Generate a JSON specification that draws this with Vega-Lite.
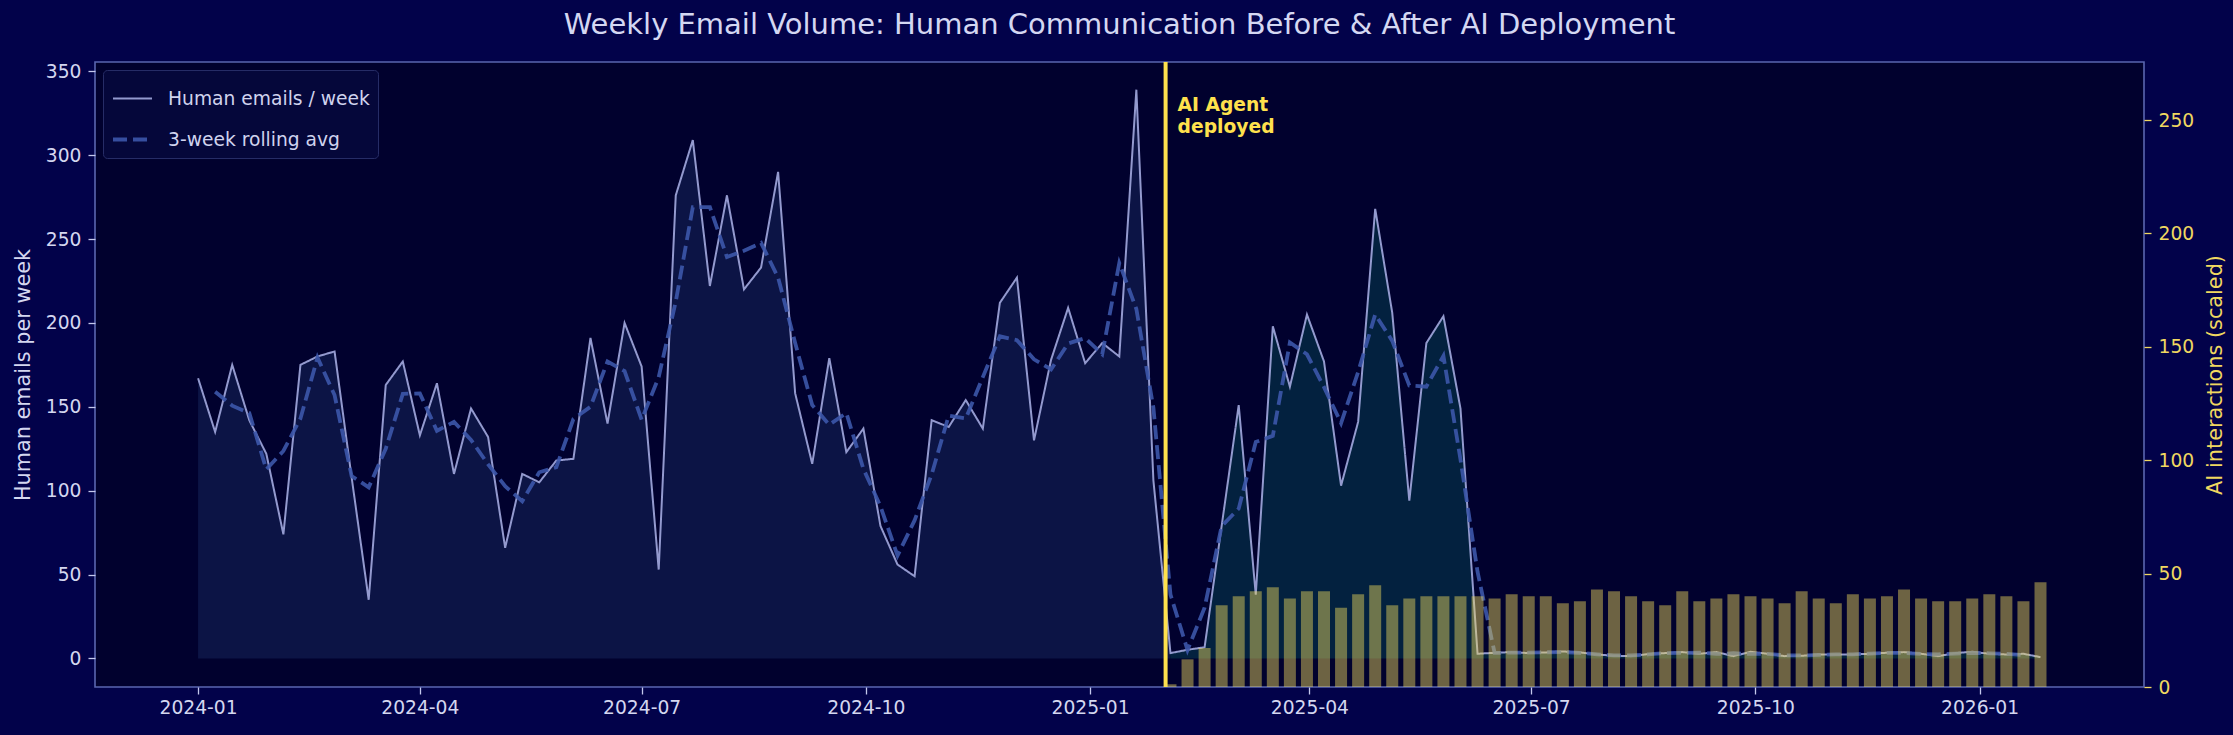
{
  "$schema": "https://vega.github.io/schema/vega-lite/v6.json",
  "width": 2049,
  "height": 625,
  "autosize": {"type": "none"},
  "padding": {"left": 95, "top": 62, "right": 89, "bottom": 48},
  "background": "#02024a",
  "title": {
    "text": "Weekly Email Volume: Human Communication Before & After AI Deployment",
    "font": "DejaVu Sans",
    "fontSize": 29,
    "fontWeight": "normal",
    "color": "#d4d7f2",
    "anchor": "middle",
    "offset": 20
  },
  "datasets": {
    "weeks": [
      {"date": "2024-01-01", "human": 167, "rolling": null, "phase": "pre"},
      {"date": "2024-01-08", "human": 135, "rolling": 159.0, "phase": "pre"},
      {"date": "2024-01-15", "human": 175, "rolling": 150.7, "phase": "pre"},
      {"date": "2024-01-22", "human": 142, "rolling": 146.3, "phase": "pre"},
      {"date": "2024-01-29", "human": 122, "rolling": 112.7, "phase": "pre"},
      {"date": "2024-02-05", "human": 74, "rolling": 123.7, "phase": "pre"},
      {"date": "2024-02-12", "human": 175, "rolling": 143.0, "phase": "pre"},
      {"date": "2024-02-19", "human": 180, "rolling": 179.3, "phase": "pre"},
      {"date": "2024-02-26", "human": 183, "rolling": 157.0, "phase": "pre"},
      {"date": "2024-03-04", "human": 108, "rolling": 108.7, "phase": "pre"},
      {"date": "2024-03-11", "human": 35, "rolling": 102.0, "phase": "pre"},
      {"date": "2024-03-18", "human": 163, "rolling": 125.0, "phase": "pre"},
      {"date": "2024-03-25", "human": 177, "rolling": 157.7, "phase": "pre"},
      {"date": "2024-04-01", "human": 133, "rolling": 158.0, "phase": "pre"},
      {"date": "2024-04-08", "human": 164, "rolling": 135.7, "phase": "pre"},
      {"date": "2024-04-15", "human": 110, "rolling": 141.0, "phase": "pre"},
      {"date": "2024-04-22", "human": 149, "rolling": 130.3, "phase": "pre"},
      {"date": "2024-04-29", "human": 132, "rolling": 115.7, "phase": "pre"},
      {"date": "2024-05-06", "human": 66, "rolling": 102.7, "phase": "pre"},
      {"date": "2024-05-13", "human": 110, "rolling": 93.7, "phase": "pre"},
      {"date": "2024-05-20", "human": 105, "rolling": 111.0, "phase": "pre"},
      {"date": "2024-05-27", "human": 118, "rolling": 114.0, "phase": "pre"},
      {"date": "2024-06-03", "human": 119, "rolling": 142.7, "phase": "pre"},
      {"date": "2024-06-10", "human": 191, "rolling": 150.0, "phase": "pre"},
      {"date": "2024-06-17", "human": 140, "rolling": 177.0, "phase": "pre"},
      {"date": "2024-06-24", "human": 200, "rolling": 171.3, "phase": "pre"},
      {"date": "2024-07-01", "human": 174, "rolling": 142.3, "phase": "pre"},
      {"date": "2024-07-08", "human": 53, "rolling": 167.7, "phase": "pre"},
      {"date": "2024-07-15", "human": 276, "rolling": 212.7, "phase": "pre"},
      {"date": "2024-07-22", "human": 309, "rolling": 269.0, "phase": "pre"},
      {"date": "2024-07-29", "human": 222, "rolling": 269.0, "phase": "pre"},
      {"date": "2024-08-05", "human": 276, "rolling": 239.3, "phase": "pre"},
      {"date": "2024-08-12", "human": 220, "rolling": 243.0, "phase": "pre"},
      {"date": "2024-08-19", "human": 233, "rolling": 247.7, "phase": "pre"},
      {"date": "2024-08-26", "human": 290, "rolling": 227.0, "phase": "pre"},
      {"date": "2024-09-02", "human": 158, "rolling": 188.0, "phase": "pre"},
      {"date": "2024-09-09", "human": 116, "rolling": 151.0, "phase": "pre"},
      {"date": "2024-09-16", "human": 179, "rolling": 139.3, "phase": "pre"},
      {"date": "2024-09-23", "human": 123, "rolling": 146.3, "phase": "pre"},
      {"date": "2024-09-30", "human": 137, "rolling": 113.0, "phase": "pre"},
      {"date": "2024-10-07", "human": 79, "rolling": 90.7, "phase": "pre"},
      {"date": "2024-10-14", "human": 56, "rolling": 61.3, "phase": "pre"},
      {"date": "2024-10-21", "human": 49, "rolling": 82.3, "phase": "pre"},
      {"date": "2024-10-28", "human": 142, "rolling": 109.7, "phase": "pre"},
      {"date": "2024-11-04", "human": 138, "rolling": 144.7, "phase": "pre"},
      {"date": "2024-11-11", "human": 154, "rolling": 143.0, "phase": "pre"},
      {"date": "2024-11-18", "human": 137, "rolling": 167.7, "phase": "pre"},
      {"date": "2024-11-25", "human": 212, "rolling": 192.0, "phase": "pre"},
      {"date": "2024-12-02", "human": 227, "rolling": 189.7, "phase": "pre"},
      {"date": "2024-12-09", "human": 130, "rolling": 178.3, "phase": "pre"},
      {"date": "2024-12-16", "human": 178, "rolling": 172.3, "phase": "pre"},
      {"date": "2024-12-23", "human": 209, "rolling": 187.7, "phase": "pre"},
      {"date": "2024-12-30", "human": 176, "rolling": 191.0, "phase": "pre"},
      {"date": "2025-01-06", "human": 188, "rolling": 181.3, "phase": "pre"},
      {"date": "2025-01-13", "human": 180, "rolling": 235.7, "phase": "pre"},
      {"date": "2025-01-20", "human": 339, "rolling": 208.3, "phase": "pre"},
      {"date": "2025-01-27", "human": 106, "rolling": 149.4, "phase": "pre"},
      {"date": "2025-02-03", "human": 3.2, "rolling": 38.1, "phase": "post"},
      {"date": "2025-02-10", "human": 5.2, "rolling": 5.0, "phase": "post"},
      {"date": "2025-02-17", "human": 6.7, "rolling": 30.3, "phase": "post"},
      {"date": "2025-02-24", "human": 79, "rolling": 78.9, "phase": "post"},
      {"date": "2025-03-03", "human": 151, "rolling": 89.3, "phase": "post"},
      {"date": "2025-03-10", "human": 38, "rolling": 129.0, "phase": "post"},
      {"date": "2025-03-17", "human": 198, "rolling": 132.7, "phase": "post"},
      {"date": "2025-03-24", "human": 162, "rolling": 188.3, "phase": "post"},
      {"date": "2025-03-31", "human": 205, "rolling": 181.3, "phase": "post"},
      {"date": "2025-04-07", "human": 177, "rolling": 161.7, "phase": "post"},
      {"date": "2025-04-14", "human": 103, "rolling": 140.3, "phase": "post"},
      {"date": "2025-04-21", "human": 141, "rolling": 170.7, "phase": "post"},
      {"date": "2025-04-28", "human": 268, "rolling": 205.0, "phase": "post"},
      {"date": "2025-05-05", "human": 206, "rolling": 189.3, "phase": "post"},
      {"date": "2025-05-12", "human": 94, "rolling": 162.7, "phase": "post"},
      {"date": "2025-05-19", "human": 188, "rolling": 162.0, "phase": "post"},
      {"date": "2025-05-26", "human": 204, "rolling": 180.3, "phase": "post"},
      {"date": "2025-06-02", "human": 149, "rolling": 118.6, "phase": "post"},
      {"date": "2025-06-09", "human": 2.8, "rolling": 51.7, "phase": "post"},
      {"date": "2025-06-16", "human": 3.4, "rolling": 3.3, "phase": "post"},
      {"date": "2025-06-23", "human": 3.8, "rolling": 3.5, "phase": "post"},
      {"date": "2025-06-30", "human": 3.2, "rolling": 3.5, "phase": "post"},
      {"date": "2025-07-07", "human": 3.6, "rolling": 3.7, "phase": "post"},
      {"date": "2025-07-14", "human": 4.2, "rolling": 3.8, "phase": "post"},
      {"date": "2025-07-21", "human": 3.6, "rolling": 3.4, "phase": "post"},
      {"date": "2025-07-28", "human": 2.4, "rolling": 2.5, "phase": "post"},
      {"date": "2025-08-04", "human": 1.6, "rolling": 1.8, "phase": "post"},
      {"date": "2025-08-11", "human": 1.4, "rolling": 1.9, "phase": "post"},
      {"date": "2025-08-18", "human": 2.6, "rolling": 2.4, "phase": "post"},
      {"date": "2025-08-25", "human": 3.2, "rolling": 3.2, "phase": "post"},
      {"date": "2025-09-01", "human": 3.8, "rolling": 3.3, "phase": "post"},
      {"date": "2025-09-08", "human": 2.8, "rolling": 3.5, "phase": "post"},
      {"date": "2025-09-15", "human": 3.8, "rolling": 2.7, "phase": "post"},
      {"date": "2025-09-22", "human": 1.4, "rolling": 3.1, "phase": "post"},
      {"date": "2025-09-29", "human": 4.0, "rolling": 2.7, "phase": "post"},
      {"date": "2025-10-06", "human": 2.8, "rolling": 2.7, "phase": "post"},
      {"date": "2025-10-13", "human": 1.4, "rolling": 1.9, "phase": "post"},
      {"date": "2025-10-20", "human": 1.6, "rolling": 1.8, "phase": "post"},
      {"date": "2025-10-27", "human": 2.4, "rolling": 2.1, "phase": "post"},
      {"date": "2025-11-03", "human": 2.4, "rolling": 2.4, "phase": "post"},
      {"date": "2025-11-10", "human": 2.4, "rolling": 2.5, "phase": "post"},
      {"date": "2025-11-17", "human": 2.8, "rolling": 2.9, "phase": "post"},
      {"date": "2025-11-24", "human": 3.4, "rolling": 3.3, "phase": "post"},
      {"date": "2025-12-01", "human": 3.8, "rolling": 3.3, "phase": "post"},
      {"date": "2025-12-08", "human": 2.8, "rolling": 2.7, "phase": "post"},
      {"date": "2025-12-15", "human": 1.4, "rolling": 2.5, "phase": "post"},
      {"date": "2025-12-22", "human": 3.2, "rolling": 2.9, "phase": "post"},
      {"date": "2025-12-29", "human": 4.0, "rolling": 3.3, "phase": "post"},
      {"date": "2026-01-05", "human": 2.8, "rolling": 3.1, "phase": "post"},
      {"date": "2026-01-12", "human": 2.4, "rolling": 2.7, "phase": "post"},
      {"date": "2026-01-19", "human": 2.8, "rolling": 2.0, "phase": "post"},
      {"date": "2026-01-26", "human": 0.8, "rolling": null, "phase": "post"}
    ],
    "ai": [
      {"date": "2025-02-03", "ai": 1.2},
      {"date": "2025-02-10", "ai": 12.2},
      {"date": "2025-02-17", "ai": 17.2},
      {"date": "2025-02-24", "ai": 36},
      {"date": "2025-03-03", "ai": 40},
      {"date": "2025-03-10", "ai": 42.2},
      {"date": "2025-03-17", "ai": 44},
      {"date": "2025-03-24", "ai": 39},
      {"date": "2025-03-31", "ai": 42.2},
      {"date": "2025-04-07", "ai": 42.2},
      {"date": "2025-04-14", "ai": 35},
      {"date": "2025-04-21", "ai": 40.9},
      {"date": "2025-04-28", "ai": 44.9},
      {"date": "2025-05-05", "ai": 36},
      {"date": "2025-05-12", "ai": 39},
      {"date": "2025-05-19", "ai": 40},
      {"date": "2025-05-26", "ai": 40},
      {"date": "2025-06-02", "ai": 40},
      {"date": "2025-06-09", "ai": 40},
      {"date": "2025-06-16", "ai": 39},
      {"date": "2025-06-23", "ai": 40.9},
      {"date": "2025-06-30", "ai": 40},
      {"date": "2025-07-07", "ai": 40},
      {"date": "2025-07-14", "ai": 36.9},
      {"date": "2025-07-21", "ai": 37.8},
      {"date": "2025-07-28", "ai": 43},
      {"date": "2025-08-04", "ai": 42.2},
      {"date": "2025-08-11", "ai": 40},
      {"date": "2025-08-18", "ai": 37.8},
      {"date": "2025-08-25", "ai": 36},
      {"date": "2025-09-01", "ai": 42.2},
      {"date": "2025-09-08", "ai": 37.8},
      {"date": "2025-09-15", "ai": 39},
      {"date": "2025-09-22", "ai": 40.9},
      {"date": "2025-09-29", "ai": 40},
      {"date": "2025-10-06", "ai": 39},
      {"date": "2025-10-13", "ai": 36.9},
      {"date": "2025-10-20", "ai": 42.2},
      {"date": "2025-10-27", "ai": 39},
      {"date": "2025-11-03", "ai": 36.9},
      {"date": "2025-11-10", "ai": 40.9},
      {"date": "2025-11-17", "ai": 39},
      {"date": "2025-11-24", "ai": 40},
      {"date": "2025-12-01", "ai": 43},
      {"date": "2025-12-08", "ai": 39},
      {"date": "2025-12-15", "ai": 37.8},
      {"date": "2025-12-22", "ai": 37.8},
      {"date": "2025-12-29", "ai": 39},
      {"date": "2026-01-05", "ai": 40.9},
      {"date": "2026-01-12", "ai": 40},
      {"date": "2026-01-19", "ai": 37.8},
      {"date": "2026-01-26", "ai": 46.2}
    ],
    "deploy": [
      {"date": "2025-02-01"}
    ]
  },
  "encoding": {
    "x": {
      "field": "date", "type": "temporal",
      "scale": {"domain": [{"year": 2023, "month": 11, "date": 21, "hours": 18, "utc": true}, {"year": 2026, "month": 3, "date": 7, "hours": 10, "utc": true}]},
      "axis": {
        "title": null,
        "labelExpr": "utcFormat(datum.value, '%Y-%m')",
        "values": [
          {"year": 2024, "month": 1, "date": 1, "utc": true},
          {"year": 2024, "month": 4, "date": 1, "utc": true},
          {"year": 2024, "month": 7, "date": 1, "utc": true},
          {"year": 2024, "month": 10, "date": 1, "utc": true},
          {"year": 2025, "month": 1, "date": 1, "utc": true},
          {"year": 2025, "month": 4, "date": 1, "utc": true},
          {"year": 2025, "month": 7, "date": 1, "utc": true},
          {"year": 2025, "month": 10, "date": 1, "utc": true},
          {"year": 2026, "month": 1, "date": 1, "utc": true}
        ],
        "labelPadding": 4
      }
    }
  },
  "layer": [
    {
      "layer": [
        {
          "data": {"name": "weeks"},
          "mark": {"type": "area", "opacity": 1},
          "encoding": {
            "y": {
              "field": "human", "type": "quantitative",
              "scale": {"domain": [-17, 355.5], "nice": false, "zero": false},
              "axis": {"orient": "left", "title": "Human emails per week", "values": [0, 50, 100, 150, 200, 250, 300, 350]}
            },
            "fill": {
              "field": "phase", "type": "nominal",
              "scale": {"domain": ["pre", "post"], "range": ["#0c1445", "#03213f"]},
              "legend": null
            }
          }
        },
        {
          "data": {"name": "weeks"},
          "transform": [{"fold": ["human", "rolling"], "as": ["series", "value"]}],
          "mark": {"type": "line", "opacity": 0.9},
          "encoding": {
            "y": {
              "field": "value", "type": "quantitative",
              "scale": {"domain": [-17, 355.5], "nice": false, "zero": false},
              "axis": {"orient": "left", "title": "Human emails per week", "values": [0, 50, 100, 150, 200, 250, 300, 350]}
            },
            "color": {
              "field": "series", "type": "nominal",
              "scale": {"domain": ["human", "rolling"], "range": ["#a3aadf", "#3c56aa"]},
              "legend": {"title": null, "labelExpr": "datum.label == 'human' ? 'Human emails / week' : '3-week rolling avg'"}
            },
            "strokeDash": {
              "field": "series", "type": "nominal",
              "scale": {"domain": ["human", "rolling"], "range": [[1, 0], [14, 6]]},
              "legend": {"title": null, "labelExpr": "datum.label == 'human' ? 'Human emails / week' : '3-week rolling avg'"}
            },
            "strokeWidth": {
              "field": "series", "type": "nominal",
              "scale": {"domain": ["human", "rolling"], "range": [2, 3.8]},
              "legend": {"title": null, "labelExpr": "datum.label == 'human' ? 'Human emails / week' : '3-week rolling avg'"}
            }
          }
        },
        {
          "data": {"name": "deploy"},
          "mark": {"type": "rule", "color": "#ffe14d", "strokeWidth": 4},
          "encoding": {}
        },
        {
          "data": {"name": "deploy"},
          "mark": {
            "type": "text",
            "text": ["AI Agent", "deployed"],
            "align": "left",
            "baseline": "alphabetic",
            "dx": 12,
            "lineHeight": 22,
            "font": "DejaVu Sans",
            "fontSize": 18.7,
            "fontWeight": "bold",
            "color": "#ffe14d"
          },
          "encoding": {
            "y": {"datum": 326}
          }
        }
      ]
    },
    {
      "data": {"name": "ai"},
      "mark": {"type": "bar", "width": 12, "color": "#f2dc5d", "opacity": 0.45},
      "encoding": {
        "y": {
          "field": "ai", "type": "quantitative",
          "scale": {"domain": [0, 275.6], "nice": false},
          "axis": {
            "orient": "right",
            "title": "AI interactions (scaled)",
            "titleAngle": 270,
            "titleBaseline": "top",
            "values": [0, 50, 100, 150, 200, 250],
            "labelColor": "#f0d860",
            "tickColor": "#f0d860",
            "titleColor": "#f0d860"
          }
        }
      }
    }
  ],
  "resolve": {"scale": {"y": "independent"}},
  "config": {
    "font": "DejaVu Sans",
    "view": {"fill": "#01012e", "stroke": "#5a66b0", "strokeWidth": 1.6},
    "axis": {
      "domain": false,
      "grid": false,
      "tickColor": "#c4c8ec",
      "tickSize": 7,
      "tickWidth": 1.3,
      "labelColor": "#d4d7f0",
      "labelFont": "DejaVu Sans",
      "labelFontSize": 18.7,
      "labelPadding": 7,
      "titleColor": "#d4d7f0",
      "titleFont": "DejaVu Sans",
      "titleFontSize": 20.8,
      "titleFontWeight": "normal",
      "titlePadding": 12
    },
    "legend": {
      "orient": "top-left",
      "offset": 8,
      "padding": 8,
      "fillColor": "#05073a",
      "strokeColor": "#262c66",
      "cornerRadius": 4,
      "labelFont": "DejaVu Sans",
      "labelFontSize": 18.7,
      "labelColor": "#d0d3ee",
      "labelLimit": 400,
      "labelOffset": 14,
      "rowPadding": 9,
      "symbolSize": 1521,
      "symbolType": "stroke"
    }
  }
}
